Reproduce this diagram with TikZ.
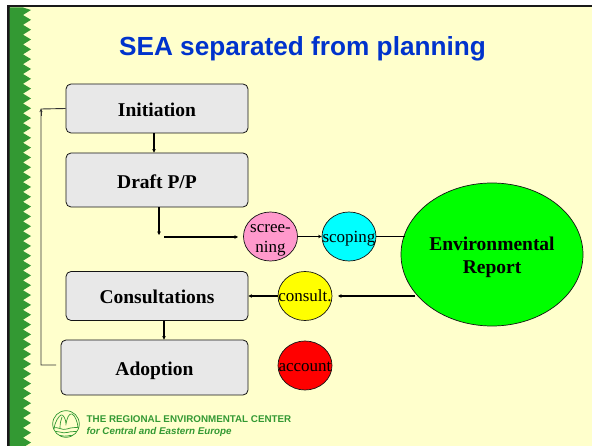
\documentclass[tikz,border=0pt]{standalone}
\usepackage{fontspec}
\setmainfont{Liberation Serif}
\setsansfont{Liberation Sans}
\usetikzlibrary{arrows.meta,calc,shapes.geometric}
\definecolor{paper}{HTML}{FFFFCC}
\definecolor{leaf}{HTML}{339933}
\definecolor{boxfill}{HTML}{E8E8E8}
\definecolor{titleblue}{HTML}{0033CC}
\definecolor{pinkfill}{HTML}{FF99CC}
\definecolor{cyanfill}{HTML}{00FFFF}
\definecolor{yellowfill}{HTML}{FFFF00}
\definecolor{redfill}{HTML}{FF0000}
\definecolor{greenfill}{HTML}{00FF00}
\newcommand{\liftline}[2]{\makebox[0pt]{\raisebox{#1}[0pt][0pt]{#2}}}
\tikzset{
  x=1pt,y=-1pt,
  stagebox/.style={draw=black!92,line width=0.8pt,fill=boxfill,rounded corners=5pt,inner sep=0pt,
    font=\fontsize{19.5}{22}\selectfont\bfseries},
  round/.style={draw=black!92,line width=0.7pt,shape=ellipse,inner sep=0pt,
    font=\fontsize{17}{19}\selectfont},
  conn/.style={line width=1.1pt,black,-{Stealth[length=3.5pt,width=3.5pt]}},
  thinconn/.style={line width=0.9pt,black!80},
  logoline/.style={draw=leaf,line width=0.7pt},
}
\begin{document}
\begin{tikzpicture}
\useasboundingbox (0,0) rectangle (592,446);
\fill[white] (0,0) rectangle (592,446);
\fill[paper] (8,6) rectangle (592,446);
\fill[black!90] (7,5) rectangle (592,7.5);
\fill[black!90] (7,5) rectangle (9.5,446);
% leaf edge
\fill[leaf] (9.5,7.5) -- (23,7.5) -- (31,10)
  \foreach \k in {0,...,44} { -- (23,{15+9.83*\k}) -- (31,{19.83+9.83*\k}) }
  -- (9.5,446) -- cycle;
\node[text=titleblue,font=\sffamily\bfseries\fontsize{26.2}{28}\selectfont,anchor=base] (title) at (302.5,56) {SEA separated from planning};

\node[stagebox,minimum width=182pt,minimum height=49pt] (init) at (157,108.5) {\liftline{-8.5pt}{Initiation}};
\node[stagebox,minimum width=182pt,minimum height=54pt] (draft) at (157,180) {\liftline{-8.8pt}{Draft P/P}};
\node[stagebox,minimum width=182pt,minimum height=49pt] (cons) at (157,296) {\liftline{-7.5pt}{Consultations}};
\node[stagebox,minimum width=187pt,minimum height=55pt] (adopt) at (154.5,367.5) {\liftline{-8.2pt}{Adoption}};

\node[round,fill=pinkfill,minimum width=54pt,minimum height=49pt] (screen) at (270.5,236.5) {\liftline{3.8pt}{scree-}\liftline{-16.2pt}{ning}};
\node[round,fill=cyanfill,minimum width=54pt,minimum height=49pt] (scope) at (349,236.5) {\liftline{-6.5pt}{scoping}};
\node[round,fill=yellowfill,minimum width=54pt,minimum height=49pt] (consult) at (305,296) {\liftline{-6pt}{consult.}};
\node[round,fill=redfill,minimum width=54pt,minimum height=49pt] (account) at (305,365.5) {\liftline{-5.8pt}{account}};
\node[round,fill=greenfill,minimum width=182pt,minimum height=143pt,font=\fontsize{19.5}{23}\selectfont\bfseries] (env) at (492,254.5) {\liftline{3.8pt}{Environmental}\liftline{-18.8pt}{Report}};

\coordinate (draftend) at (159,235);
\coordinate (hstart) at (164,237);
\coordinate (hend) at (238,237);
\coordinate (adoptleft) at (56,365);
\coordinate (elbow) at (41,365);
\coordinate (topelbow) at (41,109);
\coordinate (tiptail) at (41,116);
\coordinate (envout) at (415,296);
\coordinate (consultin) at (338,296);
\coordinate (ix) at (154,0);
\coordinate (cx) at (164,0);

\draw[conn] (init.south -| ix) -- (draft.north -| ix);
\draw[conn] (draft.south -| draftend) -- (draftend);
\draw[conn] (hstart) -- (hend);
\draw[conn] (screen.east) -- (scope.west);
\draw[line width=1.1pt] (scope.east) -- ($(env.west |- scope.east)+(4,0)$);
\draw[conn] (envout) -- (consultin);
\draw[conn] (consult.west) -- (cons.east);
\draw[conn] (cons.south -| cx) -- (adopt.north -| cx);
\draw[thinconn] (adoptleft) -- (elbow) -- (topelbow) -- (init.west);
\draw[thinconn,-{Stealth[length=3pt,width=3pt]}] (tiptail) -- (topelbow);

% logo
\draw[logoline] (66,424) circle (13.3);
\begin{scope}
\clip (66,424) circle (13.3);
\draw[logoline] (54,429) .. controls (55,421) and (59,416) .. (61,415) .. controls (63,414) and (66,419) .. (66,424) .. controls (67,418) and (69,413) .. (72,414) .. controls (75,415) and (78,423) .. (78,428);
\draw[logoline] (60,428) .. controls (60,423) and (61,420) .. (62,417);
\draw[logoline] (52,428) .. controls (58,426) and (62,431) .. (67,429) .. controls (72,427) and (76,428) .. (80,427);
\draw[logoline] (52,432) .. controls (58,430) and (62,434) .. (67,432.5) .. controls (72,431) and (76,432) .. (80,431);
\draw[logoline] (54,436) .. controls (60,434) and (63,437) .. (67,436) .. controls (71,435) and (75,435.5) .. (78,435);
\end{scope}
\node[anchor=base west,inner sep=0pt,text=leaf,font=\sffamily\bfseries\fontsize{9.8}{11}\selectfont] (rec1) at (86.5,422) {THE REGIONAL ENVIRONMENTAL CENTER};
\node[anchor=base west,inner sep=0pt,text=leaf,font=\sffamily\bfseries\itshape\fontsize{9.8}{11}\selectfont] (rec2) at (86.5,434.5) {for Central and Eastern Europe};
\end{tikzpicture}
\end{document}
